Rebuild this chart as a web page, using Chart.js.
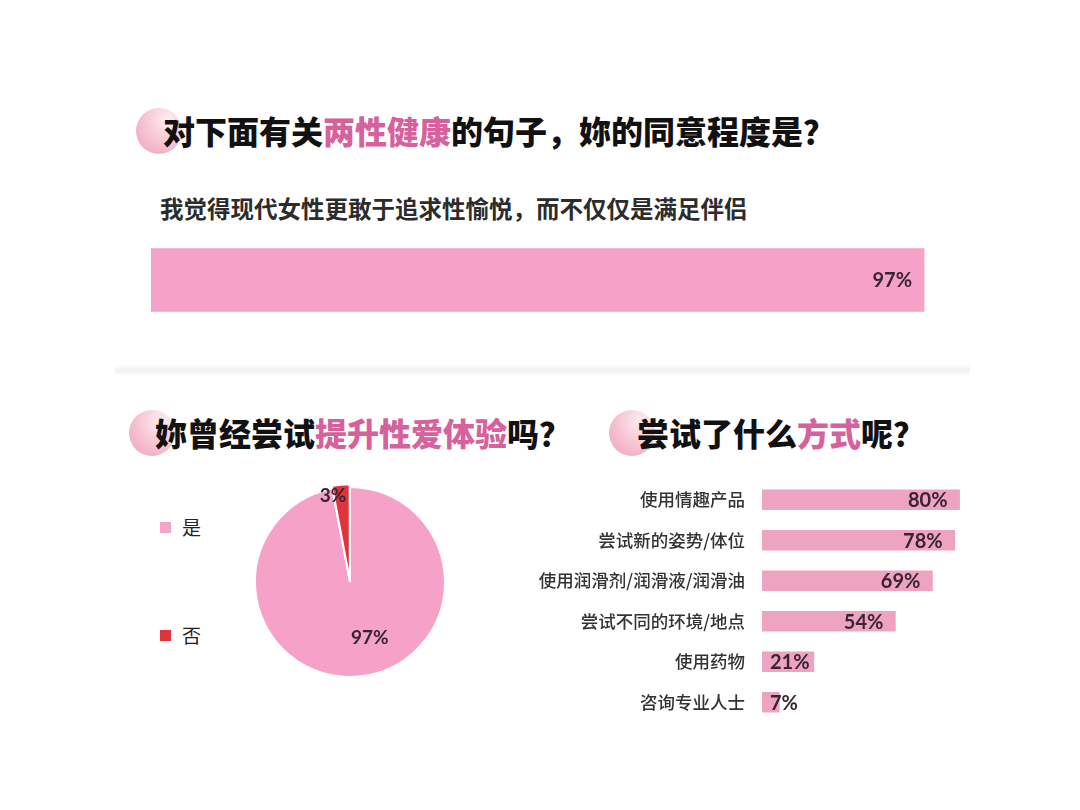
<!DOCTYPE html>
<html>
<head>
<meta charset="utf-8">
<script src="https://cdn.jsdelivr.net/npm/chart.js@4/dist/chart.umd.min.js"></script>
<style>
  body { margin: 0; background: #fff; width: 1080px; height: 810px; position: relative; overflow: hidden;
         font-family: "Noto Sans CJK SC", "Noto Sans", sans-serif; }
  .dot { position: absolute; width: 46px; height: 46px; border-radius: 50%;
         background: radial-gradient(circle at 70% 25%, #fdeef2 0%, #f7c9d6 45%, #ee9fb9 100%); }
  .title { position: absolute; font-size: 32px; font-weight: 900; color: #111; line-height: 40px; white-space: nowrap; }
  .title span { color: #d6619c; }
  .sub { position: absolute; font-size: 23.5px; font-weight: 700; color: #2c2c2c; line-height: 30px; white-space: nowrap; }
  .sep { position: absolute; left: 115px; top: 364px; width: 855px; height: 12px;
         background: linear-gradient(#fff, #f1f1f1 50%, #fff); }
  .box { position: absolute; }
  .leg { position: absolute; font-size: 19px; color: #222; line-height: 24px; }
  .leg i { display: inline-block; width: 11px; height: 11px; margin-right: 11px; vertical-align: 2px; }
</style>
</head>
<body>
<div class="dot" style="left:136px;top:108px"></div>
<div class="title" style="left:163px;top:110px">对下面有关<span>两性健康</span>的句子，妳的同意程度是？</div>
<div class="sub" style="left:160px;top:193px">我觉得现代女性更敢于追求性愉悦，而不仅仅是满足伴侣</div>
<div class="box" style="left:151px;top:240px;width:797px;height:80px"><canvas id="topChart"></canvas></div>

<div class="sep"></div>

<div class="dot" style="left:129px;top:410px"></div>
<div class="title" style="left:155px;top:412px">妳曾经尝试<span>提升性爱体验</span>吗？</div>
<div class="leg" style="left:160px;top:515px"><i style="background:#f2a6c6"></i>是</div>
<div class="leg" style="left:160px;top:623px"><i style="background:#e0343d"></i>否</div>
<div class="box" style="left:240px;top:472px;width:220px;height:220px"><canvas id="pieChart"></canvas></div>

<div class="dot" style="left:609px;top:410px"></div>
<div class="title" style="left:637px;top:412px">尝试了什么<span>方式</span>呢？</div>
<!-- y scale keeps ~27px above/below the bars, so the box is taller than the bar area -->
<div class="box" style="left:520px;top:452px;width:489px;height:298px"><canvas id="waysChart"></canvas></div>

<script>
// data
const topValue = [97];
const pieLabels = ['是', '否'];
const pieValues = [97, 3];
const wayLabels = ['使用情趣产品', '尝试新的姿势/体位', '使用润滑剂/润滑液/润滑油', '尝试不同的环境/地点', '使用药物', '咨询专业人士'];
const wayValues = [80, 78, 69, 54, 21, 7];

const numFont = 'bold 20px Lato, "Open Sans", sans-serif';

// percent text drawn right-aligned near the end of each bar
const barValueLabels = {
  id: 'barValueLabels',
  afterDatasetsDraw(chart) {
    const ctx = chart.ctx;
    const vals = chart.data.datasets[0].data;
    ctx.save();
    ctx.font = numFont;
    ctx.fillStyle = '#3a2434';
    ctx.textAlign = 'right';
    ctx.textBaseline = 'middle';
    chart.getDatasetMeta(0).data.forEach((bar, i) => {
      const txt = vals[i] + '%';
      const w = ctx.measureText(txt).width;
      const x = Math.max(bar.x - 12, bar.base + 8 + w);
      ctx.fillText(txt, x, bar.y + 1);
    });
    ctx.restore();
  }
};

new Chart(document.getElementById('topChart'), {
  type: 'bar',
  data: {
    labels: [''],
    datasets: [{ data: topValue, backgroundColor: '#f6a1c7', barThickness: 63 }]
  },
  options: {
    indexAxis: 'y',
    responsive: true,
    maintainAspectRatio: false,
    animation: false,
    layout: { padding: 0 },
    scales: {
      x: { display: false, min: 0, max: 100 },
      y: { display: false }
    },
    plugins: { legend: { display: false }, tooltip: { enabled: false } }
  },
  plugins: [barValueLabels]
});

// pie labels, placed from each arc's own geometry
const pieLabelPos = [
  { r: 0.62, shift: -0.25 },
  { r: 0.92, shift: -0.1 }
];
const pieValueLabels = {
  id: 'pieValueLabels',
  afterDatasetsDraw(chart) {
    const ctx = chart.ctx;
    ctx.save();
    ctx.font = 'bold 19px Lato, "Open Sans", sans-serif';
    ctx.fillStyle = '#3a2434';
    ctx.textAlign = 'center';
    ctx.textBaseline = 'middle';
    chart.getDatasetMeta(0).data.forEach((arc, i) => {
      const p = pieLabelPos[i];
      const a = (arc.startAngle + arc.endAngle) / 2 + p.shift;
      const x = arc.x + Math.cos(a) * arc.outerRadius * p.r;
      const y = arc.y + Math.sin(a) * arc.outerRadius * p.r;
      ctx.fillText(pieValues[i] + '%', x, y);
    });
    ctx.restore();
  }
};

new Chart(document.getElementById('pieChart'), {
  type: 'pie',
  data: {
    labels: pieLabels,
    datasets: [{
      data: pieValues,
      backgroundColor: ['#f6a1c8', '#e0343d'],
      borderColor: '#ffffff',
      borderWidth: 2,
      offset: [0, 6],
      radius: 95
    }]
  },
  options: {
    responsive: true,
    maintainAspectRatio: false,
    animation: false,
    plugins: { legend: { display: false }, tooltip: { enabled: false } }
  },
  plugins: [pieValueLabels]
});

new Chart(document.getElementById('waysChart'), {
  type: 'bar',
  data: {
    labels: wayLabels,
    datasets: [{ data: wayValues, backgroundColor: '#eea3c1', barThickness: 20 }]
  },
  options: {
    indexAxis: 'y',
    responsive: true,
    maintainAspectRatio: false,
    animation: false,
    layout: { padding: 0 },
    scales: {
      x: { display: false, min: 0, max: 100 },
      y: {
        grid: { display: false, drawTicks: false },
        border: { display: false },
        ticks: {
          color: '#333',
          padding: 17,
          font: { family: '"Noto Sans CJK SC", sans-serif', size: 17.5, weight: '500' }
        },
        afterFit(scale) { scale.width = 242; }
      }
    },
    plugins: { legend: { display: false }, tooltip: { enabled: false } }
  },
  plugins: [barValueLabels]
});
</script>
</body>
</html>
